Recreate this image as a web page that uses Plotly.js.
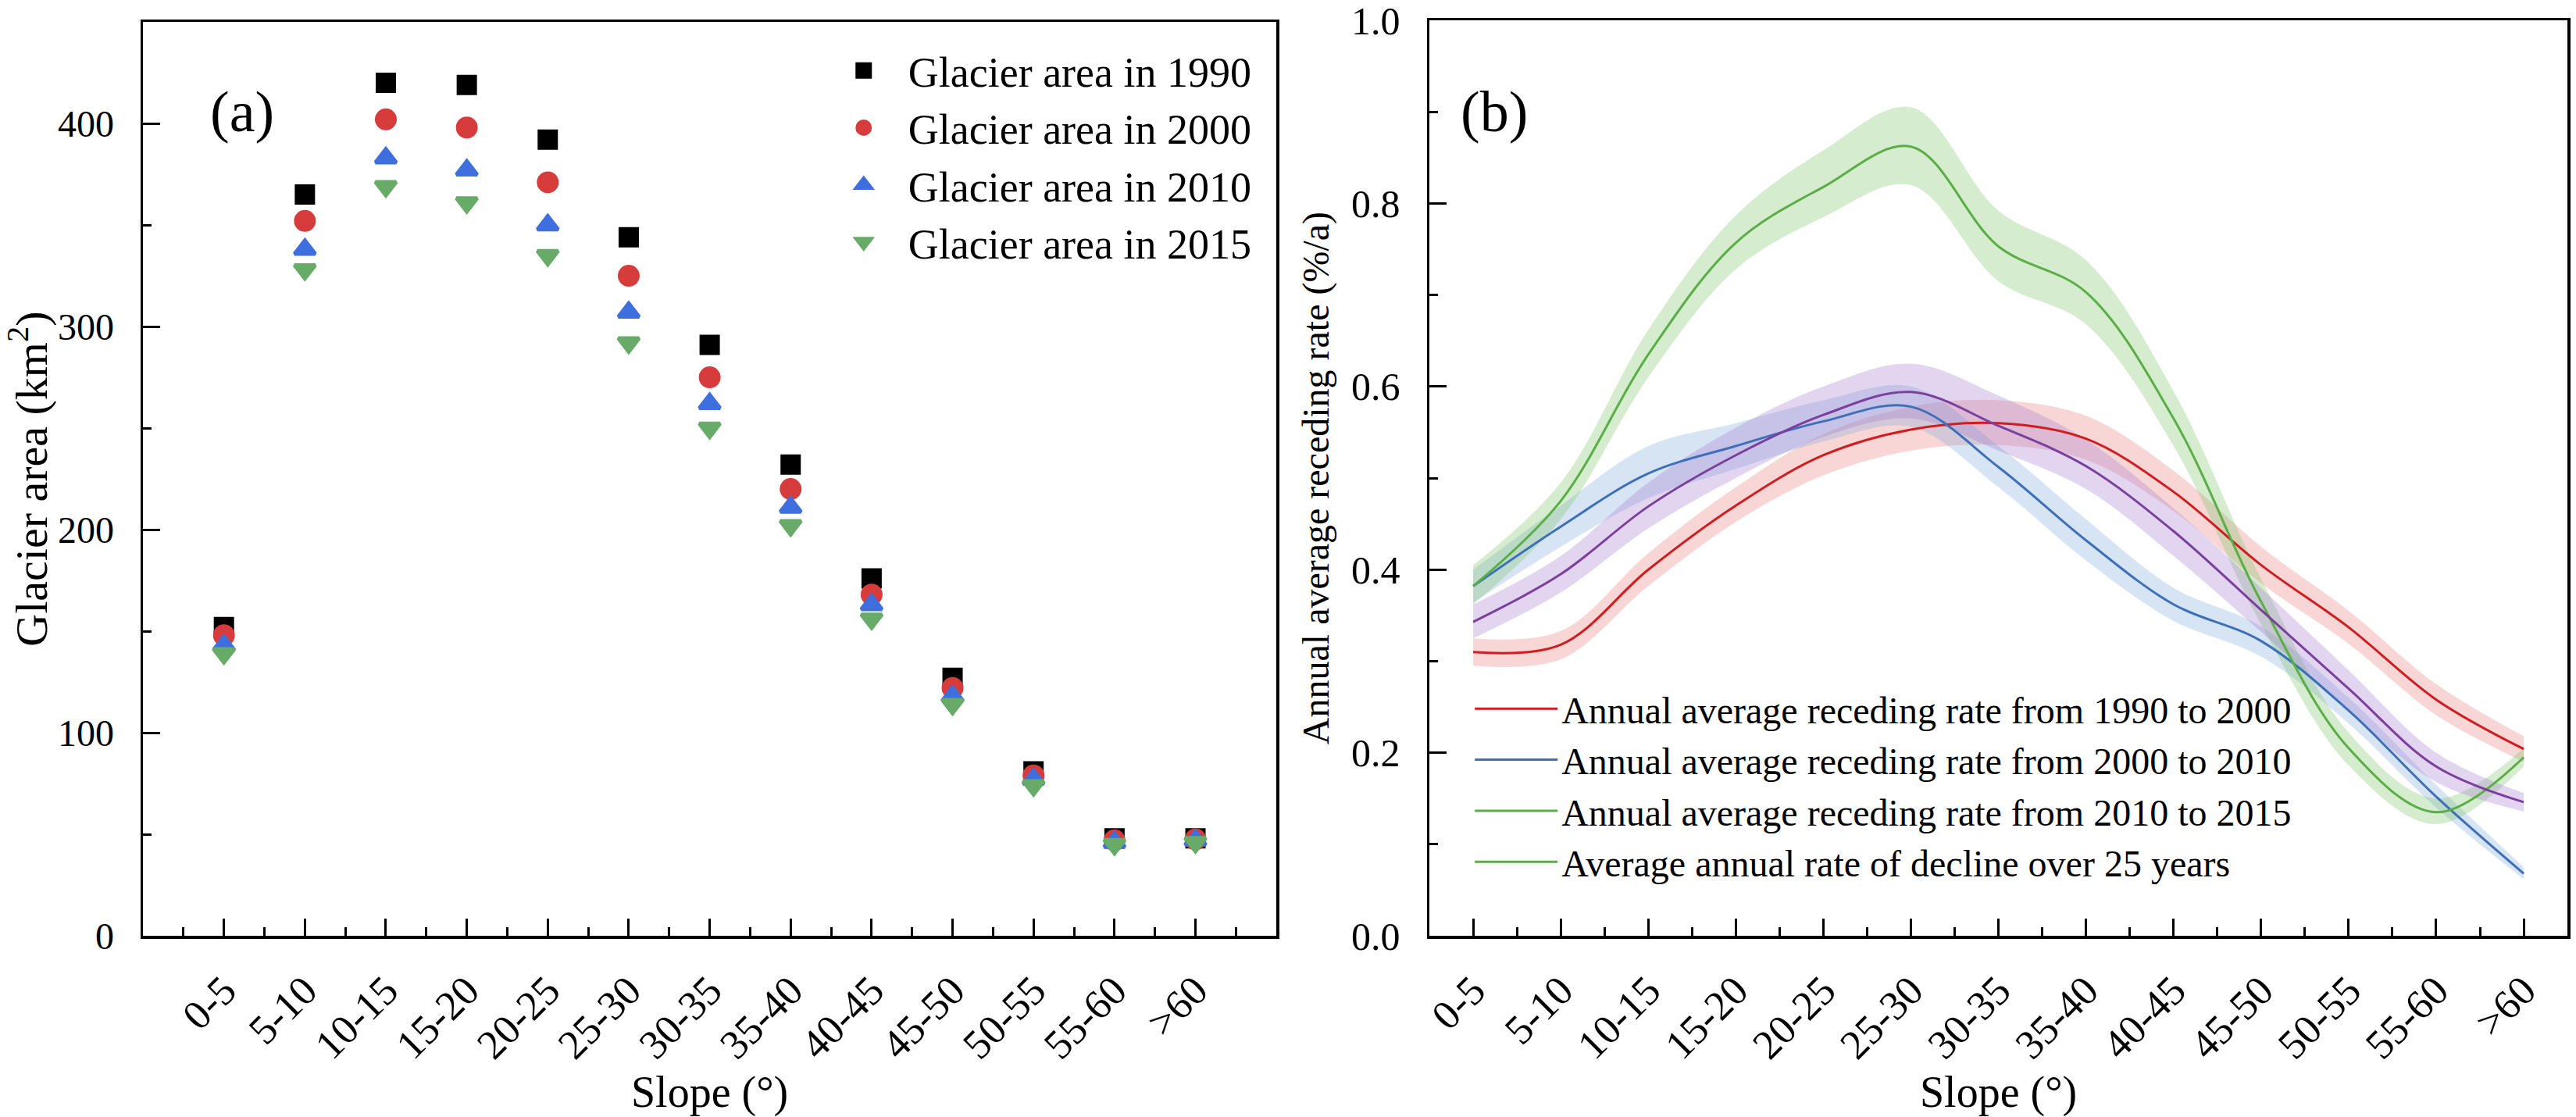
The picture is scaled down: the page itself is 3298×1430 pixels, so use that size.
<!DOCTYPE html>
<html>
<head>
<meta charset="utf-8">
<script src="https://cdn.plot.ly/plotly-3.0.1.min.js"></script>
<style>
  html, body { margin: 0; padding: 0; background: #fff; }
  #myDiv { width: 3298px; height: 1430px; }
</style>
</head>
<body>
<div id="myDiv"></div>
<script>
var slopes = ['0-5', '5-10', '10-15', '15-20', '20-25', '25-30', '30-35', '35-40', '40-45', '45-50', '50-55', '55-60', '>60'];

// (a) glacier area, km2
var area1990 = [152, 365, 420, 419, 392, 344, 291, 232, 176, 127, 81, 48, 48];
var area2000 = [148, 352, 402, 398, 371, 325, 275, 220, 168, 122, 79, 47, 47.5];
var area2010 = [143, 338, 383, 377, 350, 307, 262, 211, 163, 118, 77, 46, 47];
var area2015 = [139, 328, 369, 361, 335, 292, 250, 202, 156, 114, 74, 45, 46];

// (b) annual average receding rate, %/a, with shaded bands
var rate9000 = [0.310, 0.318, 0.400, 0.470, 0.525, 0.553, 0.560, 0.543, 0.485, 0.405, 0.337, 0.258, 0.204];
var rate9000Hi = [0.325, 0.333, 0.418, 0.490, 0.548, 0.578, 0.585, 0.568, 0.508, 0.425, 0.355, 0.275, 0.218];
var rate9000Lo = [0.295, 0.302, 0.382, 0.452, 0.503, 0.530, 0.536, 0.520, 0.464, 0.385, 0.319, 0.241, 0.190];

var rate0010 = [0.382, 0.447, 0.505, 0.535, 0.562, 0.578, 0.512, 0.432, 0.362, 0.322, 0.246, 0.152, 0.068];
var rate0010Hi = [0.400, 0.470, 0.535, 0.560, 0.585, 0.600, 0.535, 0.455, 0.380, 0.338, 0.260, 0.165, 0.075];
var rate0010Lo = [0.364, 0.425, 0.478, 0.510, 0.540, 0.556, 0.490, 0.410, 0.344, 0.305, 0.232, 0.140, 0.062];

var rate1015 = [0.382, 0.475, 0.635, 0.757, 0.818, 0.862, 0.753, 0.703, 0.565, 0.365, 0.205, 0.135, 0.195];
var rate1015Hi = [0.405, 0.495, 0.662, 0.787, 0.858, 0.905, 0.792, 0.738, 0.595, 0.390, 0.222, 0.150, 0.205];
var rate1015Lo = [0.362, 0.455, 0.610, 0.728, 0.785, 0.820, 0.715, 0.668, 0.535, 0.340, 0.186, 0.122, 0.185];

var rate25y = [0.343, 0.395, 0.469, 0.525, 0.569, 0.594, 0.557, 0.513, 0.442, 0.356, 0.270, 0.185, 0.146];
var rate25yHi = [0.362, 0.415, 0.495, 0.555, 0.600, 0.625, 0.590, 0.542, 0.467, 0.380, 0.290, 0.200, 0.156];
var rate25yLo = [0.325, 0.375, 0.445, 0.500, 0.545, 0.565, 0.530, 0.488, 0.415, 0.332, 0.246, 0.168, 0.136];

var idx = slopes.map(function (s, i) { return i; });
var serif = 'Liberation Serif, Times New Roman, serif';

// marker outline in the fill colour makes the legend symbols bigger too
function mk(symbol, size, color) {
  return {symbol: symbol, size: size, color: color, line: {width: 5, color: color}};
}

var data = [
  {x: idx, y: area1990, name: 'Glacier area in 1990', type: 'scatter', mode: 'markers',
   marker: mk('square', 21, '#000000'), xaxis: 'x', yaxis: 'y', legend: 'legend'},
  {x: idx, y: area2000, name: 'Glacier area in 2000', type: 'scatter', mode: 'markers',
   marker: mk('circle', 23, '#d63c3c'), xaxis: 'x', yaxis: 'y', legend: 'legend'},
  {x: idx, y: area2010, name: 'Glacier area in 2010', type: 'scatter', mode: 'markers',
   marker: mk('triangle-up', 23, '#3f6fde'), xaxis: 'x', yaxis: 'y', legend: 'legend'},
  {x: idx, y: area2015, name: 'Glacier area in 2015', type: 'scatter', mode: 'markers',
   marker: mk('triangle-down', 23, '#68ab68'), xaxis: 'x', yaxis: 'y', legend: 'legend'}
];

function band(lo, hi, fill) {
  data.push({x: idx, y: lo, type: 'scatter', mode: 'lines', line: {width: 0, shape: 'spline'},
    showlegend: false, hoverinfo: 'skip', xaxis: 'x2', yaxis: 'y2'});
  data.push({x: idx, y: hi, type: 'scatter', mode: 'lines', line: {width: 0, shape: 'spline'},
    fill: 'tonexty', fillcolor: fill, showlegend: false, hoverinfo: 'skip', xaxis: 'x2', yaxis: 'y2'});
}
band(rate9000Lo, rate9000Hi, 'rgba(232,120,120,0.30)');
band(rate0010Lo, rate0010Hi, 'rgba(130,170,220,0.32)');
band(rate1015Lo, rate1015Hi, 'rgba(125,195,105,0.32)');
band(rate25yLo, rate25yHi, 'rgba(165,125,205,0.32)');

function curve(y, name, color, show) {
  data.push({x: idx, y: y, name: name, type: 'scatter', mode: 'lines',
    line: {color: color, width: 3, shape: 'spline'}, showlegend: show,
    xaxis: 'x2', yaxis: 'y2', legend: 'legend2'});
}
curve(rate9000, 'Annual average receding rate from 1990 to 2000', '#cf1d20', true);
curve(rate0010, 'Annual average receding rate from 2000 to 2010', '#3d70b8', true);
curve(rate1015, 'Annual average receding rate from 2010 to 2015', '#5aae46', true);
curve(rate25y, 'Average annual rate of decline over 25 years', '#7b3f9e', false);
// the original legend shows this entry with a green swatch
data.push({x: [null], y: [null], name: 'Average annual rate of decline over 25 years', type: 'scatter',
  mode: 'lines', line: {color: '#5aae46', width: 3}, xaxis: 'x2', yaxis: 'y2', legend: 'legend2'});

var axisBase = {
  showline: true, linewidth: 3.5, linecolor: '#000', mirror: true,
  showgrid: false, zeroline: false, ticklabeloverflow: 'allow',
  ticks: 'inside', ticklen: 22, tickwidth: 3, tickcolor: '#000',
  tickfont: {family: serif, size: 48, color: '#000'}
};

function xax(domain, range) {
  return Object.assign({}, axisBase, {
    domain: domain, range: range, tickmode: 'array', tickvals: idx, ticktext: slopes,
    tickangle: -45, ticklabelstandoff: 14,
    tickfont: {family: serif, size: 53, color: '#000'},
    minor: {ticks: 'inside', ticklen: 11, tickwidth: 3, tickcolor: '#000', dtick: 0.5, tick0: 0.5},
    title: {text: 'Slope (°)', font: {family: serif, size: 56, color: '#000'}, standoff: 4}
  });
}

var layout = {
  width: 3298,
  height: 1430,
  margin: {l: 0, r: 0, t: 0, b: 0},
  paper_bgcolor: '#fff',
  plot_bgcolor: '#fff',
  font: {family: serif, color: '#000'},
  xaxis: xax([0.0555, 0.4955], [-1, 13]),
  yaxis: Object.assign({}, axisBase, {
    domain: [0.1622, 0.9804], range: [0, 450], dtick: 100, ticklabelstandoff: 24,
    minor: {ticks: 'inside', ticklen: 11, tickwidth: 3, tickcolor: '#000', dtick: 50},
    title: {text: 'Glacier area (km<sup>2</sup>)', font: {family: serif, size: 58, color: '#000'}, standoff: 14}
  }),
  xaxis2: Object.assign(xax([0.5549, 0.9967], [-0.5, 12.5]), {anchor: 'y2'}),
  yaxis2: Object.assign({}, axisBase, {
    domain: [0.1622, 0.9818], range: [0, 1.0], dtick: 0.2, tickformat: '.1f', ticklabelstandoff: 24,
    tickfont: {family: serif, size: 50, color: '#000'},
    minor: {ticks: 'inside', ticklen: 11, tickwidth: 3, tickcolor: '#000', dtick: 0.1},
    anchor: 'x2',
    title: {text: 'Annual average receding rate (%/a)', font: {family: serif, size: 48, color: '#000'}, standoff: 14}
  }),
  legend: {
    x: 0.318, y: 0.966, xanchor: 'left', yanchor: 'top', bgcolor: 'rgba(0,0,0,0)', traceorder: 'normal',
    font: {family: serif, size: 54, color: '#000'}, itemwidth: 104, tracegroupgap: 0
  },
  legend2: {
    x: 0.571, y: 0.392, xanchor: 'left', yanchor: 'top', bgcolor: 'rgba(0,0,0,0)', traceorder: 'normal',
    font: {family: serif, size: 48, color: '#000'}, itemwidth: 106, tracegroupgap: 0
  },
  annotations: [
    {text: '(a)', xref: 'paper', yref: 'paper', x: 0.081, y: 0.930, showarrow: false,
     font: {family: serif, size: 74, color: '#000'}},
    {text: '(b)', xref: 'paper', yref: 'paper', x: 0.580, y: 0.930, showarrow: false,
     font: {family: serif, size: 74, color: '#000'}}
  ],
  showlegend: true
};

Plotly.newPlot('myDiv', data, layout, {staticPlot: true});
</script>
</body>
</html>
